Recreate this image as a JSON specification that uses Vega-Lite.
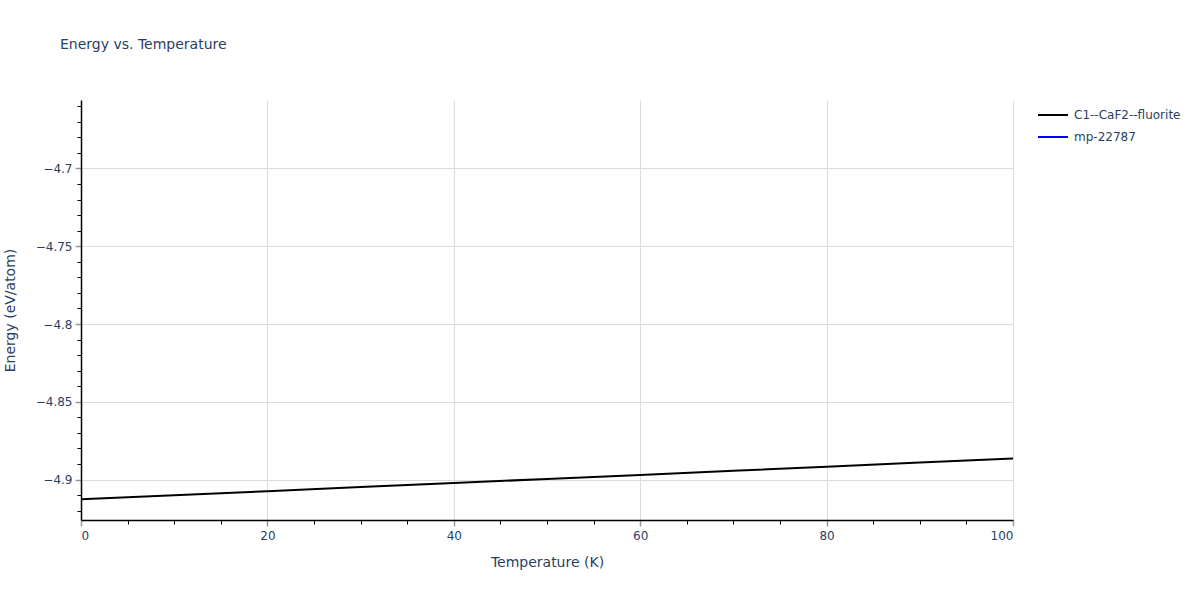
{
  "$schema": "https://vega.github.io/schema/vega-lite/v6.json",
  "width": 932,
  "height": 420,
  "autosize": {"type": "none"},
  "padding": {"left": 81, "top": 100, "right": 187, "bottom": 80},
  "background": "white",
  "config": {
    "font": "DejaVu Sans",
    "view": {"stroke": null}
  },
  "title": {
    "text": "Energy vs. Temperature",
    "anchor": "start",
    "frame": "group",
    "dx": -21,
    "offset": 47,
    "fontSize": 14,
    "fontWeight": "normal",
    "color": "#2a3f5f",
    "font": "DejaVu Sans"
  },
  "data": {
    "values": [
      {"T": 0, "E": -4.9127, "s": "C1--CaF2--fluorite"},
      {"T": 10, "E": -4.9101, "s": "C1--CaF2--fluorite"},
      {"T": 20, "E": -4.9075, "s": "C1--CaF2--fluorite"},
      {"T": 30, "E": -4.9048, "s": "C1--CaF2--fluorite"},
      {"T": 40, "E": -4.9022, "s": "C1--CaF2--fluorite"},
      {"T": 50, "E": -4.8996, "s": "C1--CaF2--fluorite"},
      {"T": 60, "E": -4.8970, "s": "C1--CaF2--fluorite"},
      {"T": 70, "E": -4.8944, "s": "C1--CaF2--fluorite"},
      {"T": 80, "E": -4.8917, "s": "C1--CaF2--fluorite"},
      {"T": 90, "E": -4.8891, "s": "C1--CaF2--fluorite"},
      {"T": 100, "E": -4.8865, "s": "C1--CaF2--fluorite"}
    ]
  },
  "resolve": {"axis": {"x": "independent", "y": "independent"}},
  "layer": [
    {
      "mark": {"type": "line", "strokeWidth": 2, "clip": true},
      "encoding": {
        "x": {
          "field": "T", "type": "quantitative",
          "scale": {"domain": [0, 100], "nice": false, "zero": false},
          "axis": {
            "orient": "bottom",
            "title": "Temperature (K)",
            "titleFontSize": 14, "titleFontWeight": "normal", "titleColor": "#2a3f5f", "titlePadding": 14,
            "values": [0, 20, 40, 60, 80, 100],
            "labelFontSize": 12, "labelColor": "#2a3f5f", "labelPadding": 4,
            "grid": true, "gridColor": "#dcdcdc", "gridWidth": 1,
            "domainColor": "#000000", "domainWidth": 1.5,
            "tickColor": "#999999", "tickSize": 6, "tickWidth": 1.5
          }
        },
        "y": {
          "field": "E", "type": "quantitative",
          "scale": {"domain": [-4.926, -4.656], "nice": false, "zero": false},
          "axis": {
            "orient": "left",
            "title": "Energy (eV/atom)",
            "titleFontSize": 14, "titleFontWeight": "normal", "titleColor": "#2a3f5f", "titlePadding": 18,
            "values": [-4.9, -4.85, -4.8, -4.75, -4.7],
            "format": "~g",
            "labelFontSize": 12, "labelColor": "#2a3f5f", "labelPadding": 3,
            "grid": true, "gridColor": "#dcdcdc", "gridWidth": 1,
            "domainColor": "#000000", "domainWidth": 1.5,
            "tickColor": "#999999", "tickSize": 6, "tickWidth": 1.5
          }
        },
        "color": {
          "field": "s", "type": "nominal",
          "scale": {"domain": ["C1--CaF2--fluorite", "mp-22787"], "range": ["#000000", "#0000ff"]},
          "legend": {
            "title": null,
            "orient": "none",
            "legendX": 956,
            "legendY": -1,
            "symbolType": "M-1,0L1,0",
            "symbolSize": 900,
            "symbolStrokeWidth": 2,
            "labelFontSize": 12,
            "labelColor": "#2a3f5f",
            "rowPadding": -7,
            "labelOffset": 5
          }
        }
      }
    },
    {
      "mark": {"type": "line", "strokeOpacity": 0},
      "encoding": {
        "x": {
          "field": "T", "type": "quantitative",
          "axis": {
            "orient": "bottom",
            "title": null,
            "values": [5, 10, 15, 25, 30, 35, 45, 50, 55, 65, 70, 75, 85, 90, 95],
            "labels": false, "grid": false, "domain": false,
            "tickColor": "#000000", "tickSize": 4, "tickWidth": 1
          }
        },
        "y": {
          "field": "E", "type": "quantitative",
          "axis": {
            "orient": "left",
            "title": null,
            "values": [-4.92, -4.91, -4.89, -4.88, -4.87, -4.86, -4.84, -4.83, -4.82, -4.81, -4.79, -4.78, -4.77, -4.76, -4.74, -4.73, -4.72, -4.71, -4.69, -4.68, -4.67, -4.66],
            "labels": false, "grid": false, "domain": false,
            "tickColor": "#000000", "tickSize": 4, "tickWidth": 1
          }
        }
      }
    }
  ]
}
